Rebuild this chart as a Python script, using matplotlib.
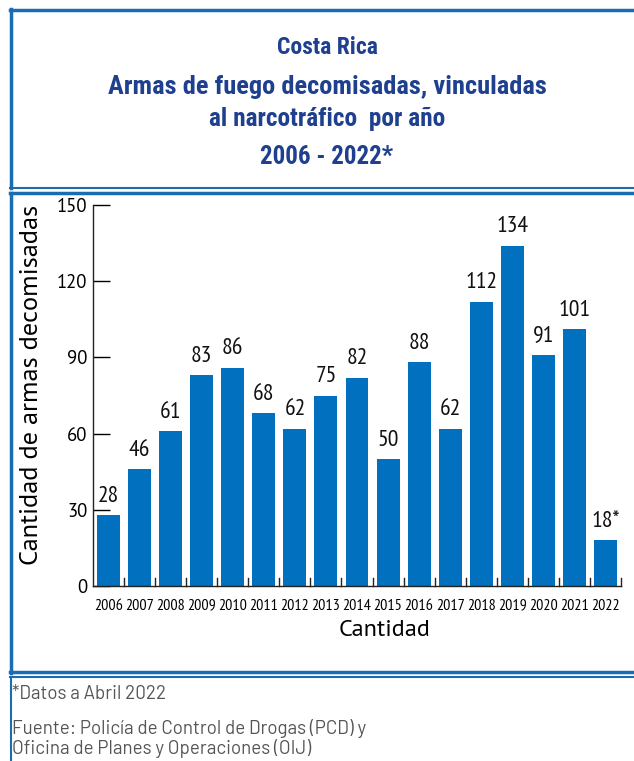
import matplotlib
matplotlib.use("Agg")
import matplotlib.pyplot as plt
from matplotlib.lines import Line2D

years = ["2006", "2007", "2008", "2009", "2010", "2011", "2012", "2013", "2014",
         "2015", "2016", "2017", "2018", "2019", "2020", "2021", "2022"]
values = [28, 46, 61, 83, 86, 68, 62, 75, 82, 50, 88, 62, 112, 134, 91, 101, 18]
value_labels = ["28", "46", "61", "83", "86", "68", "62", "75", "82", "50", "88",
                "62", "112", "134", "91", "101", "18*"]
yticks = [0, 30, 60, 90, 120, 150]

title_lines = ["Costa Rica", "Armas de fuego decomisadas, vinculadas",
               "al narcotráfico  por año", "2006 - 2022*"]
footer_note = "*Datos a Abril 2022"
footer_src = ["Fuente: Policía de Control de Drogas (PCD) y",
              "Oficina de Planes y Operaciones (OIJ)"]

W, H = 634, 761
fig = plt.figure(figsize=(W / 100, H / 100), dpi=100)
fig.patch.set_facecolor("white")

BAR = "#0070BF"
BORDER = "#1B6DB3"
TITLE = "#1F3F8F"
NARROW = ["PT Sans Narrow", "DejaVu Sans"]
TITLEF = ["Roboto Condensed", "DejaVu Sans"]
REG = ["PT Sans", "DejaVu Sans"]
FOOT = ["Barlow", "DejaVu Sans"]

def fx(x):
    return x / W

def fy(y):
    return 1 - y / H

ax = fig.add_axes([fx(93), fy(586), fx(621) - fx(93), fy(205) - fy(586)])
x = list(range(len(years)))
ax.bar(x, values, width=0.74, color=BAR, zorder=2)
ax.set_xlim(-0.5, len(years) - 0.5)
ax.set_ylim(0, 150)
ax.set_yticks(yticks)
ax.set_yticklabels([str(t) for t in yticks], fontsize=13.5, family=REG)
ax.tick_params(axis="y", direction="in", length=12, width=1, pad=4)
ax.set_xticks(x)
ax.set_xticklabels(years, fontsize=11.5, family=NARROW)
ax.tick_params(axis="x", length=0, pad=9)
for b in [i + 0.5 for i in range(len(years))]:
    ax.plot([b, b], [0, 3], color="#222222", lw=1, clip_on=False, zorder=3)
for s in ["top", "right"]:
    ax.spines[s].set_visible(False)
for s in ["left", "bottom"]:
    ax.spines[s].set_color("#222222")
    ax.spines[s].set_linewidth(1)
for xi, v, lab in zip(x, values, value_labels):
    ax.annotate(lab, (xi, v), xytext=(0, 6), textcoords="offset points",
                ha="center", va="bottom", fontsize=17, family=NARROW,
                color="#111111")
ax.set_ylabel("Cantidad de armas decomisadas", fontsize=19, family=REG,
              va="center")
ax.yaxis.set_label_coords((32 - 93) / 528, (586 - 385) / 381)
ax.set_xlabel("Cantidad", fontsize=17.5, family=REG, va="center")
ax.xaxis.set_label_coords((385 - 93) / 528, (586 - 631) / 381)

# Title
ty = [47, 87, 119, 157]
tsz = [17, 19, 18.3, 18]
for t, y, s in zip(title_lines, ty, tsz):
    fig.text(fx(327), fy(y), t, ha="center", va="center", fontsize=s,
             fontweight="bold", family=TITLEF, color=TITLE)

# Footer
fig.text(fx(12), fy(694), footer_note, ha="left", va="center", fontsize=13.5,
         color="#555555", family=FOOT)
for t, y in zip(footer_src, [728, 749]):
    fig.text(fx(12), fy(y), t, ha="left", va="center", fontsize=13.5,
             color="#555555", family=FOOT)

# Borders
def hline(y, x0=10, x1=640, lw=2.5):
    fig.add_artist(Line2D([fx(x0), fx(x1)], [fy(y), fy(y)], color=BORDER, lw=lw))

def vline(x, y0, y1, lw=2.5):
    fig.add_artist(Line2D([fx(x), fx(x)], [fy(y0), fy(y1)], color=BORDER, lw=lw))

hline(10)
vline(11, 9, 188)
hline(188, lw=1.5)
hline(193, lw=2.5)
vline(11, 193, 673)
hline(672, lw=2.5)
hline(677, lw=1.5)
vline(11, 677, 761, lw=1.5)

fig.savefig("out.png", dpi=100)
